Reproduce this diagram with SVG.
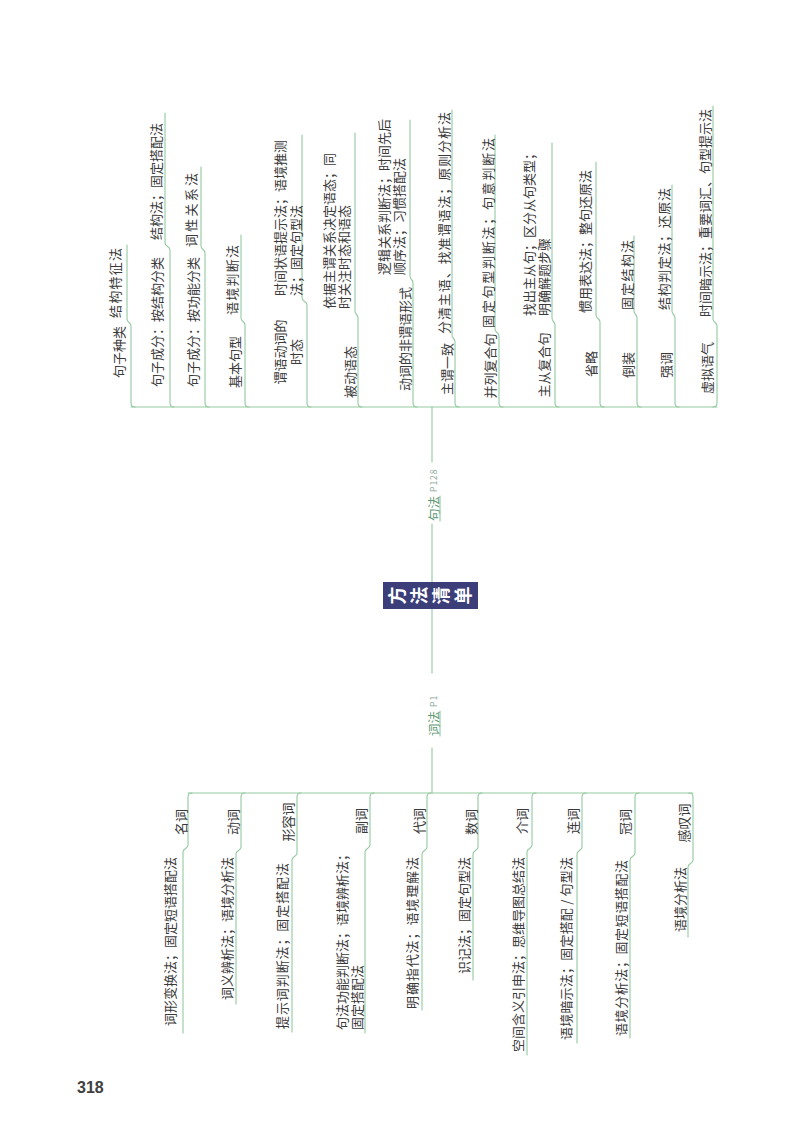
<svg xmlns="http://www.w3.org/2000/svg" width="800" height="1124" viewBox="0 0 800 1124">
<style>
.ln{fill:none;stroke:#94c9a0;stroke-width:1.1;stroke-linecap:round;stroke-linejoin:round}
text{font-family:"Noto Sans CJK SC","Noto Sans",sans-serif;font-size:13px;fill:#3a3a3a;dominant-baseline:central}
.m{text-anchor:middle}
.e{text-anchor:end}
.sec{fill:#5f9873;font-size:12.5px}
.pg{font-size:8.5px;fill:#8aa898;letter-spacing:1px}
.ct{fill:#ffffff;font-size:18px;font-weight:bold;text-anchor:middle}
.num{font-family:"Liberation Sans",Arial,sans-serif;font-weight:bold;font-size:16px;fill:#404040;dominant-baseline:auto}
</style>
<rect width="800" height="1124" fill="#ffffff"/>

<g id="connectors" class="ln">
  <path d="M131,407 H717"/>
  <path d="M188,793 H693"/>
  <path d="M432,407 V462 M432,524 V582 M432,609 V673 M432,748 V793"/>
</g>

<g id="center">
  <rect x="383" y="582" width="95" height="27" fill="#3c3e7a"/>
  <text class="ct" transform="translate(396,595.5) rotate(-90)">方</text>
  <text class="ct" transform="translate(418,595.5) rotate(-90)">法</text>
  <text class="ct" transform="translate(440,595.5) rotate(-90)">清</text>
  <text class="ct" transform="translate(462,595.5) rotate(-90)">单</text>
</g>

<g id="branch-jufa">
  <text transform="translate(433,521) rotate(-90)"><tspan class="sec">句法</tspan><tspan class="pg" dx="4">P128</tspan></text>
  <path class="ln" d="M440,496 V521"/>
</g>
<g id="branch-cifa">
  <text transform="translate(433,736) rotate(-90)"><tspan class="sec">词法</tspan><tspan class="pg" dx="4">P1</tspan></text>
  <path class="ln" d="M440,711 V736"/>
</g>

<!-- 句法 rows -->
<g id="s1">
  <path class="ln" d="M135,407 Q131,407 131,403 V326 C131,322 127,323 127,319 V245"/>
  <text class="m" transform="translate(118,352) rotate(-90)">句子种类</text>
  <text transform="translate(114,318) rotate(-90)" textLength="70">结构特征法</text>
</g>
<g id="s2">
  <path class="ln" d="M174,407 Q170,407 170,403 V250 C170,246 165,247 165,243 V113"/>
  <text class="m" transform="translate(156,322) rotate(-90)">句子成分：按结构分类</text>
  <text transform="translate(155,240) rotate(-90)">结构法；固定搭配法</text>
</g>
<g id="s3">
  <path class="ln" d="M209,407 Q205,407 205,403 V253 C205,249 201,250 201,246 V167"/>
  <text class="m" transform="translate(192,322) rotate(-90)">句子成分：按功能分类</text>
  <text transform="translate(190,247) rotate(-90)" textLength="74">词性关系法</text>
</g>
<g id="s4">
  <path class="ln" d="M249,407 Q245,407 245,403 V325 C245,321 241,322 241,318 V235"/>
  <text class="m" transform="translate(234,362) rotate(-90)">基本句型</text>
  <text transform="translate(231,315) rotate(-90)" textLength="70">语境判断法</text>
</g>
<g id="s5">
  <path class="ln" d="M311,407 Q307,407 307,403 V305 C307,301 302,302 302,298 V135"/>
  <text class="m" transform="translate(279,352) rotate(-90)">谓语动词的</text>
  <text class="m" transform="translate(295,352) rotate(-90)">时态</text>
  <text transform="translate(279,296) rotate(-90)">时间状语提示法；语境推测</text>
  <text transform="translate(295,296) rotate(-90)">法；固定句型法</text>
</g>
<g id="s6">
  <path class="ln" d="M362,407 Q358,407 358,403 V318 C358,314 355,315 355,311 V133"/>
  <text class="m" transform="translate(349,372) rotate(-90)">被动语态</text>
  <text transform="translate(328,309) rotate(-90)">依据主谓关系决定语态；同</text>
  <text transform="translate(343,309) rotate(-90)">时关注时态和语态</text>
</g>
<g id="s7">
  <path class="ln" d="M417,407 Q413,407 413,403 V283 C413,279 410,280 410,276 V120"/>
  <text class="m" transform="translate(404,339) rotate(-90)">动词的非谓语形式</text>
  <text transform="translate(383,275) rotate(-90)">逻辑关系判断法；时间先后</text>
  <text transform="translate(398,275) rotate(-90)">顺序法；习惯搭配法</text>
</g>
<g id="s8">
  <path class="ln" d="M459,407 Q455,407 455,403 V342 C455,338 452,339 452,335 V110"/>
  <text class="m" transform="translate(446,369) rotate(-90)">主谓一致</text>
  <text transform="translate(443,334) rotate(-90)" textLength="222">分清主语、找准谓语法；原则分析法</text>
</g>
<g id="s9">
  <path class="ln" d="M503,407 Q499,407 499,403 V336 C499,332 495,333 495,329 V135"/>
  <text class="m" transform="translate(489,366) rotate(-90)">并列复合句</text>
  <text transform="translate(487,328) rotate(-90)" textLength="190">固定句型判断法；句意判断法</text>
</g>
<g id="s10">
  <path class="ln" d="M559,407 Q555,407 555,403 V325 C555,321 552,322 552,318 V143"/>
  <text class="m" transform="translate(543,365) rotate(-90)">主从复合句</text>
  <text transform="translate(528,316) rotate(-90)">找出主从句；区分从句类型；</text>
  <text transform="translate(543,316) rotate(-90)">明确解题步骤</text>
</g>
<g id="s11">
  <path class="ln" d="M604,407 Q600,407 600,403 V322 C600,318 596,319 596,315 V162"/>
  <text class="m" transform="translate(590,364) rotate(-90)">省略</text>
  <text transform="translate(584,313) rotate(-90)">惯用表达法；整句还原法</text>
</g>
<g id="s12">
  <path class="ln" d="M641,407 Q637,407 637,403 V318 C637,314 634,315 634,311 V236"/>
  <text class="m" transform="translate(627,365) rotate(-90)">倒装</text>
  <text transform="translate(626,310) rotate(-90)" textLength="70">固定结构法</text>
</g>
<g id="s13">
  <path class="ln" d="M679,407 Q675,407 675,403 V318 C675,314 672,315 672,311 V185"/>
  <text class="m" transform="translate(665,365) rotate(-90)">强调</text>
  <text transform="translate(663,310) rotate(-90)" textLength="122">结构判定法；还原法</text>
</g>
<g id="s14">
  <path class="ln" d="M713,407 Q717,407 717,403 V326 C717,322 713,323 713,319 V106"/>
  <text class="m" transform="translate(706,368) rotate(-90)">虚拟语气</text>
  <text transform="translate(704,317) rotate(-90)">时间暗示法；重要词汇、句型提示法</text>
</g>

<!-- 词法 rows -->
<g id="w1">
  <path class="ln" d="M192,793 Q188,793 188,797 V845 C188,849 183,848 183,852 V1033"/>
  <text class="m" transform="translate(180,822) rotate(-90)">名词</text>
  <text class="e" transform="translate(169,857) rotate(-90)">词形变换法；固定短语搭配法</text>
</g>
<g id="w2">
  <path class="ln" d="M245,793 Q241,793 241,797 V847 C241,851 236,850 236,854 V1004"/>
  <text class="m" transform="translate(232,822) rotate(-90)">动词</text>
  <text class="e" transform="translate(226,857) rotate(-90)">词义辨析法；语境分析法</text>
</g>
<g id="w3">
  <path class="ln" d="M301,793 Q297,793 297,797 V853 C297,857 292,856 292,860 V1032"/>
  <text class="m" transform="translate(287,822) rotate(-90)">形容词</text>
  <text class="e" transform="translate(281,863) rotate(-90)" textLength="166">提示词判断法；固定搭配法</text>
</g>
<g id="w4">
  <path class="ln" d="M374,793 Q370,793 370,797 V845 C370,849 365,848 365,852 V1033"/>
  <text class="m" transform="translate(360,821) rotate(-90)">副词</text>
  <text transform="translate(341,1030) rotate(-90)">句法功能判断法；语境辨析法；</text>
  <text transform="translate(356,1030) rotate(-90)">固定搭配法</text>
</g>
<g id="w5">
  <path class="ln" d="M431,793 Q427,793 427,797 V847 C427,851 422,850 422,854 V1010"/>
  <text class="m" transform="translate(418,821) rotate(-90)">代词</text>
  <text class="e" transform="translate(411,857) rotate(-90)" textLength="152">明确指代法；语境理解法</text>
</g>
<g id="w6">
  <path class="ln" d="M482,793 Q478,793 478,797 V847 C478,851 473,850 473,854 V980"/>
  <text class="m" transform="translate(470,822) rotate(-90)">数词</text>
  <text class="e" transform="translate(463,857) rotate(-90)">识记法；固定句型法</text>
</g>
<g id="w7">
  <path class="ln" d="M536,793 Q532,793 532,797 V845 C532,849 527,848 527,852 V1055"/>
  <text class="m" transform="translate(521,821) rotate(-90)">介词</text>
  <text class="e" transform="translate(517,857) rotate(-90)">空间含义引申法；思维导图总结法</text>
</g>
<g id="w8">
  <path class="ln" d="M586,793 Q582,793 582,797 V847 C582,851 577,850 577,854 V1043"/>
  <text class="m" transform="translate(572,821) rotate(-90)">连词</text>
  <text class="e" transform="translate(565,857) rotate(-90)" textLength="183">语境暗示法；固定搭配 / 句型法</text>
</g>
<g id="w9">
  <path class="ln" d="M639,793 Q635,793 635,797 V853 C635,857 630,856 630,860 V1038"/>
  <text class="m" transform="translate(624,822) rotate(-90)">冠词</text>
  <text class="e" transform="translate(620,860) rotate(-90)" textLength="176">语境分析法；固定短语搭配法</text>
</g>
<g id="w10">
  <path class="ln" d="M689,793 Q693,793 693,797 V860 C693,864 688,863 688,867 V937"/>
  <text class="m" transform="translate(683,823) rotate(-90)">感叹词</text>
  <text class="e" transform="translate(679,867) rotate(-90)">语境分析法</text>
</g>

<text class="num" x="77" y="1093">318</text>
</svg>
